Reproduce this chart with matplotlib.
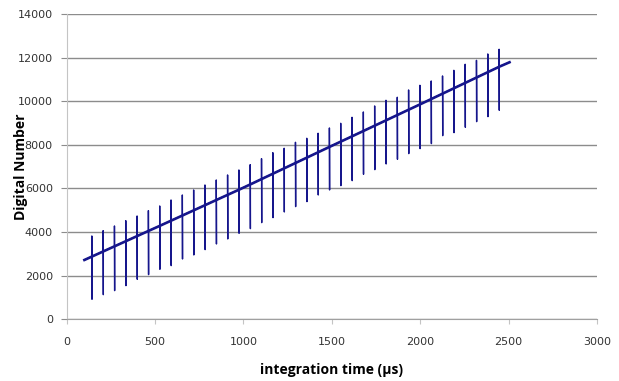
import matplotlib
matplotlib.use("Agg")
import matplotlib.pyplot as plt
import numpy as np

# integration time of each spike (us)
spike_t = [142, 206, 270, 334, 398, 462, 526, 590, 654, 718, 782, 846, 910,
           974, 1038, 1102, 1166, 1230, 1294, 1358, 1422, 1486, 1550, 1614,
           1678, 1742, 1806, 1870, 1934, 1998, 2062, 2126, 2190, 2254, 2318,
           2382, 2446]
# baseline DN just at each spike
base_dn = [2874, 3109, 3344, 3579, 3814, 4049, 4283, 4520, 4757, 4994, 5231,
           5468, 5705, 5940, 6182, 6428, 6674, 6920, 7166, 7411, 7657, 7903,
           8146, 8389, 8633, 8877, 9121, 9365, 9609, 9852, 10099, 10345,
           10592, 10838, 11085, 11331, 11578]
# spike maxima / minima
peak_dn = [3820, 4064, 4279, 4523, 4737, 4982, 5196, 5471, 5700, 5930, 6159,
           6388, 6618, 6847, 7091, 7366, 7640, 7842, 8117, 8301, 8530, 8773,
           8988, 9262, 9507, 9782, 10043, 10181, 10516, 10730, 10928, 11158,
           11417, 11694, 11876, 12167, 12382]
dip_dn = [917, 1128, 1313, 1542, 1834, 2047, 2293, 2460, 2765, 2949, 3194,
          3453, 3683, 3944, 4156, 4431, 4661, 4921, 5166, 5395, 5700, 5930,
          6128, 6357, 6650, 6861, 7122, 7338, 7596, 7826, 8055, 8420, 8558,
          8805, 9062, 9292, 9585]
# ends of the sweep
start_t, start_dn = 100, 2720
end_t, end_dn = 2505, 11786

# build the trace
xs = [start_t]
ys = [start_dn]
for t, b, p, d in zip(spike_t, base_dn, peak_dn, dip_dn):
    xs += [t, t, t + 1, t + 1]
    ys += [b, p, d, b + 15]
xs.append(end_t)
ys.append(end_dn)

navy = "#16168c"

fig = plt.figure(figsize=(6.19, 3.81), dpi=100)
ax = fig.add_axes([0.1078, 0.162, 0.8567, 0.8013])

ax.plot(xs, ys, color=navy, lw=1.0)
# the smooth part of the trace looks heavier (noise)
ax.plot([start_t] + spike_t + [end_t], [start_dn] + base_dn + [end_dn],
        color=navy, lw=1.9)

ax.set_xlim(0, 3000)
ax.set_ylim(0, 14000)
ax.set_xticks(np.arange(0, 3001, 500))
ax.set_yticks(np.arange(0, 14001, 2000))

ax.grid(axis="y", color="#8c8c8c", lw=1)
ax.set_axisbelow(True)
for s in ["top", "right"]:
    ax.spines[s].set_visible(False)
ax.spines["left"].set_color("#c4c4c4")
ax.spines["bottom"].set_color("#a0a0a0")
ax.tick_params(axis="y", length=4, color="#8c8c8c", pad=6, labelsize=8,
               labelcolor="#333333")
ax.tick_params(axis="x", length=3.5, color="#c4c4c4", pad=9, labelsize=8,
               labelcolor="#333333")

ax.set_xlabel("integration time (µs)", fontsize=10, fontweight="bold",
              family="Open Sans")
ax.xaxis.set_label_coords(0.5, -0.166)
ax.xaxis.label.set_va("center")
ax.set_ylabel("Digital Number", fontsize=10, fontweight="bold",
              family="Open Sans")
ax.yaxis.set_label_coords(-0.087, 0.5)
ax.yaxis.label.set_va("center")

fig.savefig("out.png", dpi=100)
